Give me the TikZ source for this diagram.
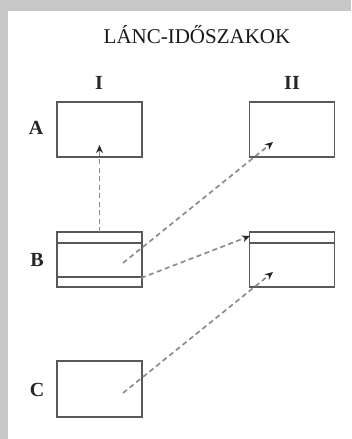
\documentclass[tikz,border=0pt]{standalone}
\usepackage{fontspec}
\setmainfont{Liberation Serif}
\usetikzlibrary{arrows.meta}
\begin{document}
\begin{tikzpicture}[x=1pt,y=-1pt,
  boxst/.style={draw=black!65,line width=1.5pt,minimum width=85pt,minimum height=55pt,inner sep=0pt,outer sep=0pt},
  lbl/.style={font=\bfseries\fontsize{20}{21}\selectfont,text=black!85,inner sep=0pt},
  darr/.style={draw=black!45,line width=1.7pt,dash pattern=on 5pt off 3.5pt,-{Stealth[length=8pt,width=7pt,color=black!85]}},
  inner/.style={draw=black!65,line width=1.5pt}]
\useasboundingbox (0,0) rectangle (351,439);
\fill[black!22] (0,0) rectangle (351,439);
\fill[white] (8,11) rectangle (351,439);
\node[inner sep=0pt,text=black!90,font=\fontsize{21}{22}\selectfont] (title) at (197,34.5) {LÁNC-IDŐSZAKOK};
\node[lbl] (cI) at (99,82.5) {I};
\node[lbl] (cII) at (292,82.5) {II};
\node[lbl] (rA) at (36,128) {A};
\node[lbl] (rB) at (37,260) {B};
\node[lbl] (rC) at (37,390) {C};
\node[boxst] (AI) at (99.5,129.5) {};
\node[boxst] (AII) at (292,129.5) {};
\node[boxst] (BI) at (99.5,259.5) {};
\node[boxst] (BII) at (292,259.5) {};
\node[boxst,minimum height=56pt] (CI) at (99.5,389) {};
\draw[inner] (BI.west |- 0,243) coordinate (b1l) -- (BI.east |- 0,243) coordinate (b1r);
\draw[inner] (BI.west |- 0,277) coordinate (b2l) -- (BI.east |- 0,277) coordinate (b2r);
\draw[inner] (BII.west |- 0,243) coordinate (b3l) -- (BII.east |- 0,243) coordinate (b3r);
\coordinate (s1) at (BI.north);
\coordinate (e1) at (99.5,145);
\coordinate (s2) at (123,263);
\coordinate (e2) at (273,142);
\coordinate (s3) at (141,278);
\coordinate (e3) at (250,236);
\coordinate (s4) at (123,393);
\coordinate (e4) at (273,272);
\draw[darr] (s1) -- (e1);
\draw[darr] (s2) -- (e2);
\draw[darr] (s3) -- (e3);
\draw[darr] (s4) -- (e4);
\end{tikzpicture}
\end{document}
